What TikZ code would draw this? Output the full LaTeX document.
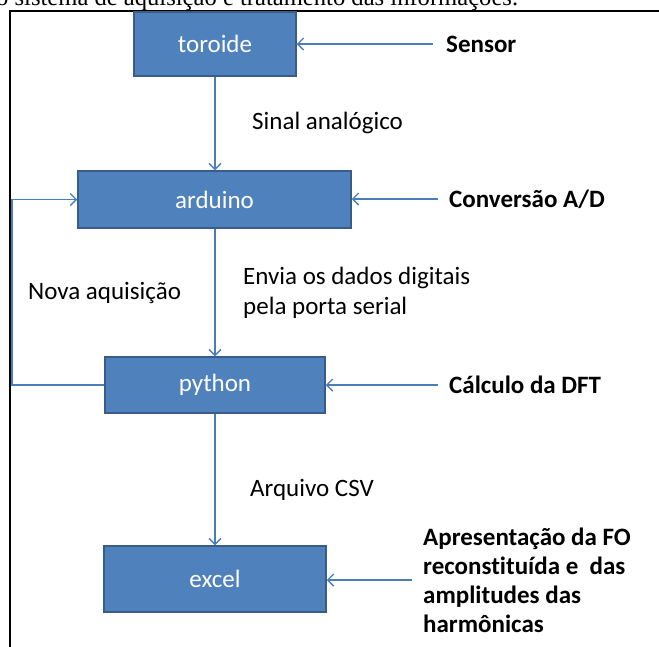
\documentclass[tikz,border=0pt]{standalone}
\usepackage{fontspec}
\setmainfont{Carlito}[Ligatures=NoCommon]
\newfontfamily\capfont{Liberation Serif}
\usetikzlibrary{arrows.meta}
\definecolor{boxfill}{HTML}{4F81BD}
\definecolor{boxline}{HTML}{385D8A}
\definecolor{arrcol}{HTML}{4A7EBB}
\tikzset{
  blk/.style={draw=boxline, line width=1.5pt, fill=boxfill, text=white, inner sep=0pt,
    font=\fontsize{25}{30}\selectfont},
  arr/.style={draw=arrcol, line width=1.4pt, -{Straight Barb[length=6pt,width=12pt,line width=1.4pt]}},
  lbl/.style={inner sep=0pt, anchor=west, font=\fontsize{25}{30}\selectfont, align=left},
  blbl/.style={lbl, font=\fontsize{25}{30}\selectfont\bfseries},
  frame/.style={draw=black, line width=2pt}
}
\begin{document}
\begin{tikzpicture}[x=1pt,y=-1pt]
\useasboundingbox (0,0) rectangle (659,646);
% caption (clipped at top, as in the reference)
\node[anchor=base west, inner sep=0pt, font=\capfont\fontsize{24.6}{28}\selectfont] (cap) at (-4,5.5) {o sistema de aquisição e tratamento das informações.};
% frame
\coordinate (ftl) at (10,11);
\coordinate (ftr) at (662,11);
\coordinate (fbl) at (10,650);
\draw[frame] (ftr) -- (ftl) -- (fbl);
% boxes
\node[blk, minimum width=162pt, minimum height=64pt] (toroide) at (215,44) {toroide};
\node[blk, minimum width=273pt, minimum height=57pt] (arduino) at (214.5,199.5) {arduino};
\node[blk, minimum width=220pt, minimum height=56pt] (python) at (215,385) {python};
\node[blk, minimum width=222pt, minimum height=66pt] (excel) at (215,579) {excel};
% right labels
\node[blbl] (sensor) at (446,44) {Sensor};
\node[blbl] (conv) at (449,199) {Conversão A/D};
\node[blbl] (dft) at (449,385) {Cálculo da DFT};
\node[blbl, align=left] (apres) at (423,580) {Apresentação da FO\\[-1pt]reconstituída e~ das\\[-1pt]amplitudes das\\[-1pt]harmônicas};
% middle labels
\node[lbl] (sinal) at (252,123) {Sinal analógico};
\node[lbl] (envia) at (243,293) {Envia os dados digitais\\pela porta serial};
\node[lbl] (csv) at (250,490) {Arquivo CSV};
\node[lbl] (nova) at (28,293) {Nova aquisição};
% vertical arrows
\draw[arr] (toroide.south -| 215,0) -- (arduino.north -| 215,0);
\draw[arr] (arduino.south -| 215,0) -- (python.north -| 215,0);
\draw[arr] (python.south) -- (excel.north);
% side arrows
\draw[arr] ([xshift=-13pt]sensor.west) -- (toroide.east |- sensor.west);
\draw[arr] ([xshift=-11pt]conv.west) -- (arduino.east |- conv.west);
\draw[arr] ([xshift=-11pt]dft.west) -- (python.east |- dft.west);
\draw[arr] ([xshift=-11pt]apres.west) -- (excel.east |- apres.west);
% loop
\coordinate (lp) at (12,0);
\draw[arr] (python.west) -- (python.west -| lp) |- (arduino.west);
\end{tikzpicture}
\end{document}
